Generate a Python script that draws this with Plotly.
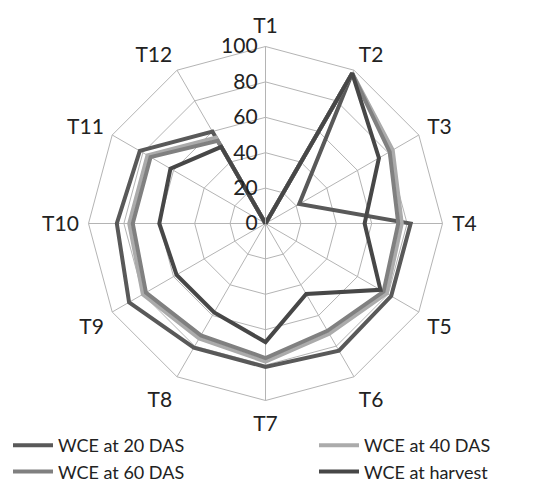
import plotly.graph_objects as go

categories = ["T1", "T2", "T3", "T4", "T5", "T6", "T7", "T8", "T9", "T10", "T11", "T12"]
wce_20 = [0, 98, 22, 82, 82, 83, 81, 81, 89, 84, 82, 60]
wce_40 = [0, 98, 83, 77, 79, 72, 78, 75, 80, 77, 77, 56]
wce_60 = [0, 98, 81, 75, 77, 70, 76, 73, 78, 75, 75, 54]
wce_harvest = [0, 98, 74, 56, 75, 46, 67, 58, 58, 60, 62, 50]

series = [
    ("WCE at 20 DAS", wce_20, "#595959", "legend"),
    ("WCE at 40 DAS", wce_40, "#ababab", "legend2"),
    ("WCE at 60 DAS", wce_60, "#808080", "legend"),
    ("WCE at harvest", wce_harvest, "#474747", "legend2"),
]

fig = go.Figure()
for name, vals, color, leg in series:
    fig.add_trace(go.Scatterpolar(
        r=vals + [vals[0]],
        theta=categories + [categories[0]],
        mode="lines",
        name=name,
        legend=leg,
        line=dict(color=color, width=4),
    ))

FONT = "Lato, 'Open Sans', sans-serif"
W, H = 553, 485
legend_common = dict(
    orientation="v",
    yanchor="top",
    y=1 - 419 / H,
    bgcolor="rgba(0,0,0,0)",
    font=dict(size=18, family=FONT, color="#222222"),
    tracegroupgap=0,
    itemwidth=40,
)
fig.update_layout(
    width=W, height=H,
    margin=dict(l=0, r=0, t=0, b=0, autoexpand=False),
    paper_bgcolor="white",
    plot_bgcolor="white",
    font=dict(family=FONT, size=20, color="#222222"),
    polar=dict(
        domain=dict(x=[80.5 / W, 434.5 / W], y=[1 - 392.5 / H, 1 - 38.5 / H]),
        bgcolor="white",
        gridshape="linear",
        angularaxis=dict(
            direction="clockwise",
            rotation=90,
            gridcolor="#b4b4b4",
            gridwidth=1,
            linecolor="#b4b4b4",
            linewidth=1,
            ticks="outside",
            ticklen=5,
            tickcolor="rgba(0,0,0,0)",
            tickfont=dict(size=21, family=FONT, color="#222222"),
        ),
        radialaxis=dict(
            range=[0, 100],
            tickvals=[0, 20, 40, 60, 80, 100],
            angle=90,
            tickangle=90,
            side="counterclockwise",
            gridcolor="#b4b4b4",
            gridwidth=1,
            showline=True,
            linecolor="#b4b4b4",
            linewidth=1,
            ticks="",
            tickfont=dict(size=21, family=FONT, color="#222222"),
        ),
    ),
    legend=dict(x=0.0, xanchor="left", **legend_common),
    legend2=dict(x=306 / W, xanchor="left", **legend_common),
)

fig.write_html("out.html")
